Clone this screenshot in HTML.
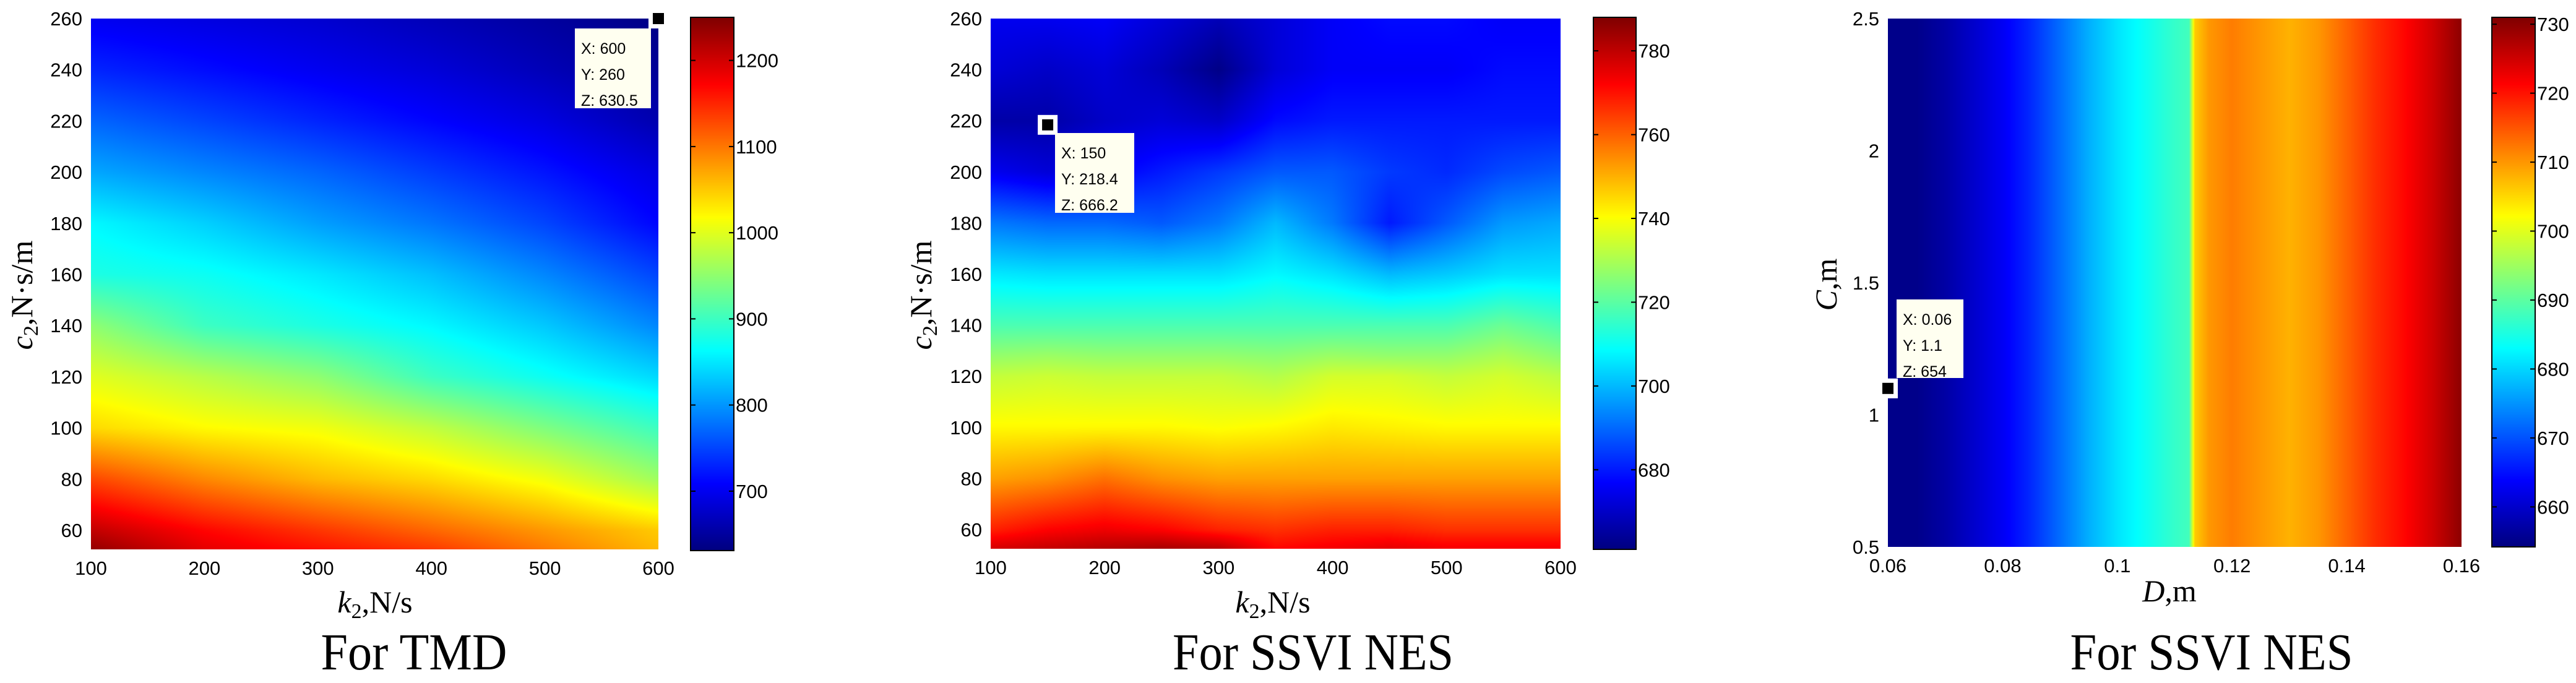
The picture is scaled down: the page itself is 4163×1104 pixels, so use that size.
<!DOCTYPE html>
<html><head><meta charset="utf-8"><style>
html,body{margin:0;padding:0;background:#fff;}
#root{position:relative;width:4163px;height:1104px;overflow:hidden;background:#fff;}
canvas{position:absolute;}
svg{position:absolute;left:0;top:0;}
.tk{font-family:"Liberation Sans",sans-serif;font-size:31px;fill:#000;}
.dt{font-family:"Liberation Sans",sans-serif;font-size:25px;fill:#000;}
.lab{font-family:"Liberation Serif",serif;font-size:50px;fill:#000;}
.ttl{font-family:"Liberation Serif",serif;font-size:84px;fill:#000;}
</style></head><body>
<div id="root">
<canvas id="c1"></canvas>
<canvas id="c2"></canvas>
<canvas id="c3"></canvas>
<canvas id="b1"></canvas>
<canvas id="b2"></canvas>
<canvas id="b3"></canvas>
<svg id="ov" width="4163" height="1104"></svg>
</div>
<script>
// ---- Panel 1 (TMD) data ----
const p1X = [100,200,300,400,500,600];
const p1Y = [52,60,80,100,120,140,160,180,200,220,240,260];
const p1Z = [
 [1240,1190,1165,1140,1100,1060],
 [1210,1170,1140,1110,1080,1050],
 [1130,1090,1060,1040,1010,960],
 [1040,1020,1010,980,940,900],
 [1000,975,950,900,870,840],
 [950,900,880,860,830,790],
 [880,870,850,825,790,750],
 [860,835,805,780,750,710],
 [810,790,770,745,720,690],
 [770,750,730,710,690,660],
 [730,715,700,685,665,645],
 [700,690,680,665,650,635]];
const p1XTicks = [100,200,300,400,500,600];
const p1YTicks = [60,80,100,120,140,160,180,200,220,240,260];
const p1CTicks = [700,800,900,1000,1100,1200];
// ---- Panel 2 (SSVI NES) data ----
const p2X = [100,150,200,250,300,350,400,450,500,550,600];
const p2Y = [52,60,80,100,120,128,140,160,180,200,220,240,260];
const p2Z = [
 [778,780,782,784,782,772,774,776,774,774,774],
 [768,772,774,772,768,766,768,768,766,766,766],
 [752,754,758,754,752,752,752,752,752,752,752],
 [741,741,741,741,740,741,743,742,741,741,741],
 [733,734,733,733,733,731,735,735,733,735,732],
 [727,728,727,727,727,726,728,727,727,730,726],
 [718,718,718,718,718,718,718,718,718,722,718],
 [706,705,705,705,705,708,705,700,702,705,705],
 [692,690,690,688,692,700,692,680,688,696,698],
 [675,672,676,680,684,688,688,684,682,686,688],
 [666,666,670,672,670,678,680,680,680,680,680],
 [672,670,672,668,662,672,676,676,676,678,678],
 [675,675,676,672,668,672,676,678,678,676,676]];
const p2XTicks = [100,200,300,400,500,600];
const p2YTicks = [60,80,100,120,140,160,180,200,220,240,260];
const p2CTicks = [680,700,720,740,760,780];
// ---- Panel 3 (SSVI NES, C vs D) data ----
const p3D = [0.06,0.065,0.07,0.075,0.08,0.085,0.09,0.095,0.1,0.105,0.11,0.1125,0.1135,0.116,0.12,0.125,0.13,0.135,0.14,0.145,0.15,0.155,0.16];
const p3Z = [655,655,657,660,663,667,672,677,681,684,687,688,706,710,712,710,708,710,714,718,721,725,730];
const p3XTicks = [0.06,0.08,0.1,0.12,0.14,0.16];
const p3XLabels = ["0.06","0.08","0.1","0.12","0.14","0.16"];
const p3YTicks = [0.5,1,1.5,2,2.5];
const p3YLabels = ["0.5","1","1.5","2","2.5"];
const p3CTicks = [660,670,680,690,700,710,720,730];

function jet(t){
  t=Math.max(0,Math.min(1,t));
  const f=x=>Math.max(0,Math.min(1,x));
  return [f(1.5-Math.abs(4*t-3))*255, f(1.5-Math.abs(4*t-2))*255, f(1.5-Math.abs(4*t-1))*255];
}
function interp1(arr,v){
  if(v<=arr[0])return [0,0];
  for(let i=0;i<arr.length-1;i++){ if(v<=arr[i+1]) return [i,(v-arr[i])/(arr[i+1]-arr[i])]; }
  return [arr.length-2,1];
}
const SVGNS="http://www.w3.org/2000/svg";
const ov=document.getElementById('ov');
function el(tag,attrs,txt){const e=document.createElementNS(SVGNS,tag);for(const k in attrs)e.setAttribute(k,attrs[k]);if(txt!==undefined)e.textContent=txt;ov.appendChild(e);return e;}

function drawPanel(o){
  const W=o.x1-o.x0,H=o.y1-o.y0;
  const sx=v=>o.x0+(v-o.xmin)/(o.xmax-o.xmin)*W;
  const sy=v=>o.y1-(v-o.ymin)/(o.ymax-o.ymin)*H;
  const cv=document.getElementById(o.cid);
  cv.width=W;cv.height=H;cv.style.left=o.x0+'px';cv.style.top=o.y0+'px';
  const ctx=cv.getContext('2d');const img=ctx.createImageData(W,H);
  for(let py=0;py<H;py++){
    const yv=o.ymax-(py+0.5)/H*(o.ymax-o.ymin);
    for(let px=0;px<W;px++){
      const xv=o.xmin+(px+0.5)/W*(o.xmax-o.xmin);
      const z=o.zAt(xv,yv);
      const c=jet((z-o.cmin)/(o.cmax-o.cmin));
      const k=(py*W+px)*4;img.data[k]=c[0];img.data[k+1]=c[1];img.data[k+2]=c[2];img.data[k+3]=255;
    }
  }
  ctx.putImageData(img,0,0);
  const bv=document.getElementById(o.bid);const BW=o.bx1-o.bx0,BH=o.by1-o.by0;
  bv.width=BW;bv.height=BH;bv.style.left=o.bx0+'px';bv.style.top=o.by0+'px';
  const bc=bv.getContext('2d');
  for(let py=0;py<BH;py++){const c=jet(1-(py+0.5)/BH);bc.fillStyle=`rgb(${c[0]|0},${c[1]|0},${c[2]|0})`;bc.fillRect(0,py,BW,1);}
  const r=el('rect',{x:o.bx0,y:o.by0,width:BW,height:BH,fill:'none',stroke:'#000','stroke-width':2});
  
  const cy=v=>o.by1-(v-o.cmin)/(o.cmax-o.cmin)*BH;
  o.cticks.forEach(v=>{
    const y=cy(v);
    el('line',{x1:o.bx0,x2:o.bx0+8,y1:y,y2:y,stroke:'#000','stroke-width':2});
    el('line',{x1:o.bx1-8,x2:o.bx1,y1:y,y2:y,stroke:'#000','stroke-width':2});
    const t=el('text',{x:o.bx1+3,y:y+11,class:'tk'},String(v));
    
  });
  o.xticks.forEach((v,i)=>{
    const t=el('text',{x:sx(v),y:o.y1+41,class:'tk','text-anchor':'middle'},o.xlabels?o.xlabels[i]:String(v));
    
  });
  o.yticks.forEach((v,i)=>{
    const t=el('text',{x:o.x0-14,y:sy(v)+11,class:'tk','text-anchor':'end'},o.ylabels?o.ylabels[i]:String(v));
    
  });
  const mx=sx(o.tip[0]),my=sy(o.tip[1]);
  const m1=el('rect',{x:mx-16,y:my-16,width:32,height:32,fill:'#fff'});
  
  el('rect',{x:mx-9,y:my-9,width:18,height:18,fill:'#000'});
  const bx=o.tipBox;
  const bb=el('rect',{x:bx[0],y:bx[1],width:bx[2],height:bx[3],fill:'#fffff0'});
  
  o.tipText.forEach((s,i)=>{
    const t=el('text',{x:bx[0]+10,y:bx[1]+41+i*42,class:'dt'},s);
    
  });
}
function grid(X,Y,Z){return (x,y)=>{const [i,fx]=interp1(X,x);const [j,fy]=interp1(Y,y);
  const a=Z[j][i]*(1-fx)+Z[j][i+1]*fx, b=Z[j+1][i]*(1-fx)+Z[j+1][i+1]*fx; return a*(1-fy)+b*fy;};}

drawPanel({tag:'tmd',cid:'c1',bid:'b1',x0:147,x1:1064,y0:30,y1:888,xmin:100,xmax:600,ymin:52.5,ymax:260,
  cmin:631,cmax:1250,bx0:1116,bx1:1186,by0:28,by1:890,zAt:grid(p1X,p1Y,p1Z),
  xticks:p1XTicks,yticks:p1YTicks,cticks:p1CTicks,tip:[600,260],tipBox:[929,46,123,129],tipText:['X: 600','Y: 260','Z: 630.5']});
drawPanel({tag:'ssvi',cid:'c2',bid:'b2',x0:1601,x1:2522,y0:30,y1:887,xmin:100,xmax:600,ymin:52.5,ymax:260,
  cmin:661,cmax:788,bx0:2575,bx1:2644,by0:28,by1:888,zAt:grid(p2X,p2Y,p2Z),
  xticks:p2XTicks,yticks:p2YTicks,cticks:p2CTicks,tip:[150,218.4],tipBox:[1705,215,128,129],tipText:['X: 150','Y: 218.4','Z: 666.2']});
drawPanel({tag:'cd',cid:'c3',bid:'b3',x0:3051,x1:3978,y0:30,y1:884,xmin:0.06,xmax:0.16,ymin:0.5,ymax:2.5,
  cmin:654.2,cmax:731,bx0:4027,bx1:4097,by0:28,by1:884,
  zAt:(x,y)=>{const [i,f]=interp1(p3D,x);return p3Z[i]*(1-f)+p3Z[i+1]*f;},
  xticks:p3XTicks,xlabels:p3XLabels,yticks:p3YTicks,ylabels:p3YLabels,cticks:p3CTicks,tip:[0.06,1.1],tipBox:[3065,484,108,127],tipText:['X: 0.06','Y: 1.1','Z: 654']});

function lab(x,y,html,cls,rot,name,len){
  const t=el('text',{x:x,y:y,class:cls,'text-anchor':'middle'});
  if(rot)t.setAttribute('transform',`rotate(-90 ${x} ${y})`);
  if(len){t.setAttribute('textLength',len);t.setAttribute('lengthAdjust','spacingAndGlyphs');}
  t.innerHTML=html;
  
}
lab(606,990,'<tspan font-style="italic">k</tspan><tspan font-size="34" dy="9">2</tspan><tspan dy="-9">,N/s</tspan>','lab',false,'tmd-x-axis-title');
lab(52,477,'<tspan font-style="italic">c</tspan><tspan font-size="34" dy="9">2</tspan><tspan dy="-9">,N·s/m</tspan>','lab',true,'tmd-y-axis-title');
lab(2057,990,'<tspan font-style="italic">k</tspan><tspan font-size="34" dy="9">2</tspan><tspan dy="-9">,N/s</tspan>','lab',false,'ssvi-x-axis-title');
lab(1505,477,'<tspan font-style="italic">c</tspan><tspan font-size="34" dy="9">2</tspan><tspan dy="-9">,N·s/m</tspan>','lab',true,'ssvi-y-axis-title');
lab(3506,972,'<tspan font-style="italic">D</tspan>,m','lab',false,'cd-x-axis-title');
lab(2968,460,'<tspan font-style="italic">C</tspan>,m','lab',true,'cd-y-axis-title');
lab(669,1082,'For TMD','ttl',false,'tmd-caption',301);
lab(2122,1082,'For SSVI NES','ttl',false,'ssvi-caption',454);
lab(3574,1082,'For SSVI NES','ttl',false,'cd-caption',457);
</script>
</body></html>
